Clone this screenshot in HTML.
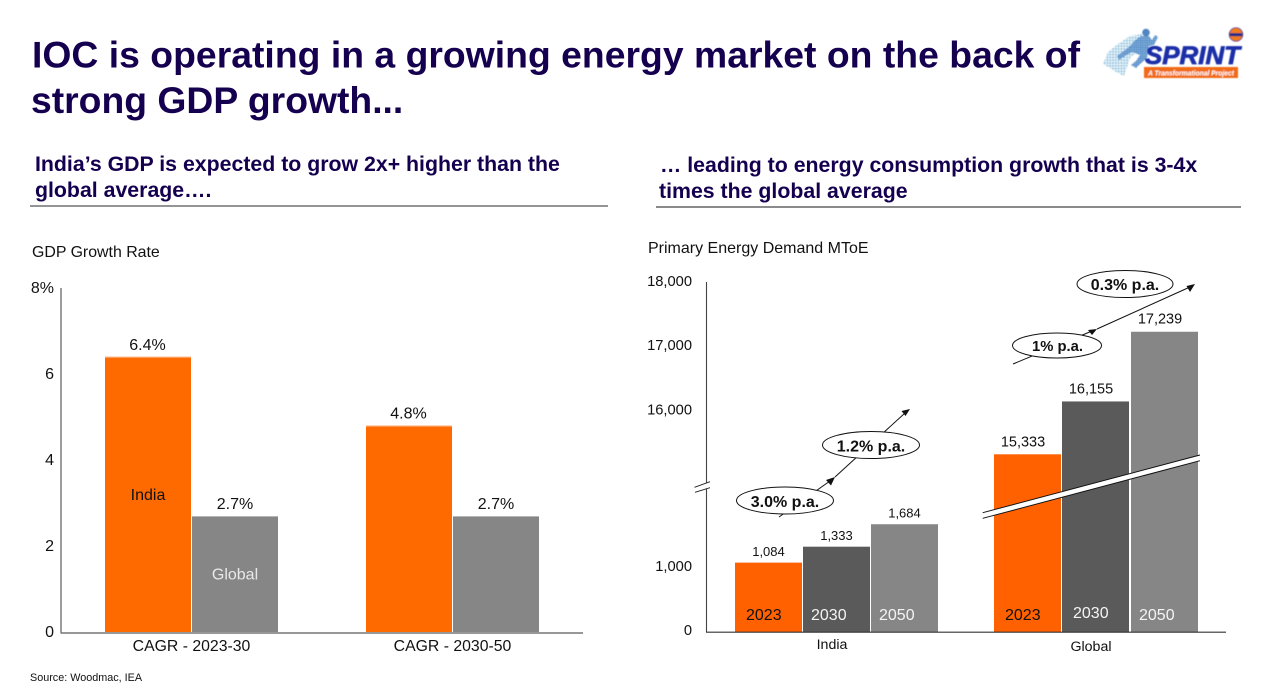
<!DOCTYPE html>
<html lang="en">
<head>
<meta charset="utf-8">
<title>IOC energy market slide</title>
<style>
html,body{margin:0;padding:0;background:#fff;width:1261px;height:694px;overflow:hidden}
svg{display:block;font-family:"Liberation Sans",Arial,sans-serif}
</style>
</head>
<body>
<svg id="slide" xmlns="http://www.w3.org/2000/svg" width="1261" height="694" viewBox="0 0 1261 694">
  <defs>
    <filter id="soft" x="-10%" y="-10%" width="120%" height="120%"><feGaussianBlur stdDeviation="0.5"/></filter>
    <pattern id="dots" width="2.2" height="2.2" patternUnits="userSpaceOnUse"><rect width="2.2" height="2.2" fill="#86b4de"/><circle cx="1.1" cy="1.1" r="0.75" fill="#2f6fb8"/></pattern>
    <pattern id="sparse" width="2.8" height="2.8" patternUnits="userSpaceOnUse"><rect width="2.8" height="2.8" fill="#e4f1f8"/><circle cx="1.4" cy="1.4" r="0.8" fill="#62a9d2"/></pattern>
  </defs>
  <rect width="1261" height="694" fill="#fff"/>

  <g fill="#15004f" font-weight="700" font-size="37.3">
    <text x="32" y="67.5" textLength="1048" lengthAdjust="spacing">IOC is operating in a growing energy market on the back of</text>
    <text x="31" y="113">strong GDP growth...</text>
  </g>

  <g filter="url(#soft)">
    <path d="M1103 64 L1108 52 L1118 44 L1130 36 L1142 34 L1140 50 L1130 58 L1124 76 L1116 72 L1110 68 Z" fill="url(#sparse)"/>
    <path d="M1141 36 L1149 36 L1152 40 L1155 35 L1158 37 L1154 45 L1149 46 L1148 52 L1147 58 L1139 65 L1136 68 L1131 65 L1136 61 L1140 55 L1132 52 L1125 56 L1119 60 L1117 56 L1125 50 L1131 45 L1134 41 Z" fill="url(#dots)"/>
    <circle cx="1146" cy="32.500" r="3.800" fill="#4f86c0"/>
    <circle cx="1236" cy="34.500" r="6.800" fill="#f07a1c" stroke="#1d2a8c" stroke-width="0.7"/>
    <rect x="1229.800" y="33.200" width="12.400" height="3" fill="#1d2a8c"/>
    <text x="1145" y="64" font-size="25" font-weight="700" font-style="italic" fill="#1c2fa8" stroke="#1c2fa8" stroke-width="0.8" textLength="95" lengthAdjust="spacingAndGlyphs">SPRINT</text>
    <rect x="1144" y="67" width="94" height="11" fill="#f26a14"/>
    <text x="1148" y="75.300" font-size="7.200" font-weight="700" font-style="italic" fill="#fff" textLength="86" lengthAdjust="spacingAndGlyphs">A Transformational Project</text>
  </g>

  <g fill="#15004f" font-weight="700" font-size="21.3">
    <text x="35" y="171">India’s GDP is expected to grow 2x+ higher than the</text>
    <text x="35" y="197">global average….</text>
  </g>
  <line x1="30" y1="206" x2="608" y2="206" stroke="#555" stroke-width="1.200"/>

  <g fill="#15004f" font-weight="700" font-size="21.3">
    <text x="660" y="172">… leading to energy consumption growth that is 3-4x</text>
    <text x="659" y="198">times the global average</text>
  </g>
  <line x1="656" y1="207" x2="1241" y2="207" stroke="#444" stroke-width="1.200"/>

  <text x="32" y="257" font-size="15.900" fill="#111">GDP Growth Rate</text>
  <text x="648" y="253" font-size="16" fill="#111">Primary Energy Demand MToE</text>

  <g id="gdp-chart"></g>
  <g id="energy-chart"></g>

  <g id="annotations" fill="none" stroke="#111" stroke-width="1">
    <line x1="779" y1="517" x2="830" y2="481"/>
    <polygon points="835,477 826,480 831,485.500" fill="#111" stroke="none"/>
    <line x1="835" y1="477" x2="905" y2="413"/>
    <polygon points="910,409 901.500,411 905.500,416" fill="#111" stroke="none"/>
    <line x1="1013" y1="364" x2="1092" y2="331"/>
    <polygon points="1097,329 1088,330 1092,335" fill="#111" stroke="none"/>
    <line x1="1097" y1="329" x2="1190" y2="287"/>
    <polygon points="1195,284 1186.500,286 1190,292" fill="#111" stroke="none"/>
    <g>
      <ellipse cx="785" cy="500.500" rx="48.500" ry="13.500" fill="#fff"/>
      <text x="785" y="507" font-size="16" font-weight="700" fill="#111" stroke="none" text-anchor="middle">3.0% p.a.</text>
    </g>
    <g>
      <ellipse cx="871" cy="445" rx="48.500" ry="13.500" fill="#fff"/>
      <text x="871" y="451.500" font-size="16" font-weight="700" fill="#111" stroke="none" text-anchor="middle">1.2% p.a.</text>
    </g>
    <g>
      <ellipse cx="1057" cy="345.500" rx="44.500" ry="12.500" fill="#fff"/>
      <text x="1057.500" y="351" font-size="14.800" font-weight="700" fill="#111" stroke="none" text-anchor="middle">1% p.a.</text>
    </g>
    <g>
      <ellipse cx="1125" cy="284" rx="48" ry="13.500" fill="#fff"/>
      <text x="1125" y="290" font-size="16" font-weight="700" fill="#111" stroke="none" text-anchor="middle">0.3% p.a.</text>
    </g>
  </g>

  <text x="30" y="681" font-size="10.800" fill="#111">Source: Woodmac, IEA</text>
</svg>

<script>
var gdpCategories = ['CAGR - 2023-30', 'CAGR - 2030-50'];
var gdpIndia = [6.4, 4.8];
var gdpGlobal = [2.7, 2.7];
var gdpTicks = [0, 2, 4, 6, 8];
var gdpTickLabels = ['0', '2', '4', '6', '8%'];
var gdpValueLabels = { india: ['6.4%', '4.8%'], global: ['2.7%', '2.7%'] };

var energyGroups = ['India', 'Global'];
var energyYears = ['2023', '2030', '2050'];
var energyIndia = [1084, 1333, 1684];
var energyGlobal = [15333, 16155, 17239];
var energyLowerTicks = [0, 1000];
var energyUpperTicks = [16000, 17000, 18000];

var SVGNS = 'http://www.w3.org/2000/svg';

function make(parent, tag, props) {
  var el = document.createElementNS(SVGNS, tag);
  for (var k in props) { el.setAttribute(k, props[k]); }
  parent.appendChild(el);
  return el;
}
function fmt(v) { return String(v).replace(/\B(?=(\d{3})+$)/g, ','); }

/* ---------- GDP chart ---------- */
var gdpRoot = document.getElementById('gdp-chart');
function gdpY(v) { return 632 - v * 43; }
function gdpGroupX(i) { return 105 + i * 261; }

gdpTicks.forEach(function (t, i) {
  var tick = make(gdpRoot, 'text', { x: 54, y: gdpY(t) + 5, 'font-size': 16, fill: '#111', 'text-anchor': 'end' });
  tick.textContent = gdpTickLabels[i];
  
  
});

gdpCategories.forEach(function (cat, i) {
  var x0 = gdpGroupX(i);

  var barI = make(gdpRoot, 'rect', { x: x0, y: gdpY(gdpIndia[i]), width: 86, height: gdpY(0) - gdpY(gdpIndia[i]), fill: '#ff6a00' });
  
  

  var edge = make(gdpRoot, 'line', { x1: x0, x2: x0 + 86, y1: gdpY(gdpIndia[i]) + 0.5, y2: gdpY(gdpIndia[i]) + 0.5, stroke: '#fbb080', 'stroke-width': 1 });
  
  

  var barG = make(gdpRoot, 'rect', { x: x0 + 87, y: gdpY(gdpGlobal[i]) + 0.5, width: 86, height: gdpY(0) - gdpY(gdpGlobal[i]) - 0.5, fill: '#868686' });
  
  

  var valI = make(gdpRoot, 'text', { x: x0 + 42.5, y: gdpY(gdpIndia[i]) - 7, 'font-size': 16, fill: '#111', 'text-anchor': 'middle' });
  valI.textContent = gdpValueLabels.india[i];
  
  

  var valG = make(gdpRoot, 'text', { x: x0 + 130, y: gdpY(gdpGlobal[i]) - 7, 'font-size': 16, fill: '#111', 'text-anchor': 'middle' });
  valG.textContent = gdpValueLabels.global[i];
  
  

  var catLabel = make(gdpRoot, 'text', { x: x0 + 86.5, y: 651, 'font-size': 15.8, fill: '#111', 'text-anchor': 'middle' });
  catLabel.textContent = cat;
  
  
});

var gdpSeriesIndia = make(gdpRoot, 'text', { x: 148, y: 500, 'font-size': 16, fill: '#111', 'text-anchor': 'middle' });
gdpSeriesIndia.textContent = 'India';



var gdpSeriesGlobal = make(gdpRoot, 'text', { x: 235, y: 579.5, 'font-size': 16, fill: '#e8e8e8', 'text-anchor': 'middle' });
gdpSeriesGlobal.textContent = 'Global';



var gdpAxisY = make(gdpRoot, 'line', { x1: 61, x2: 61, y1: gdpY(8), y2: 633, stroke: '#666', 'stroke-width': 1.3 });



var gdpAxisX = make(gdpRoot, 'line', { x1: 60.5, x2: 583, y1: 633, y2: 633, stroke: '#777', 'stroke-width': 1.6 });



/* ---------- Energy chart ---------- */
var energyRoot = document.getElementById('energy-chart');
var BASE_Y = 632;
function lowerY(v) { return BASE_Y - v * 0.064; }
function upperY(v) { return 454.3 - (v - 15333) * 0.0643; }
function energyY(v) { return v >= 10000 ? upperY(v) : lowerY(v); }

var groupStarts = [735, 994];
var yearColors = ['#ff6000', '#5a5a5a', '#868686'];
var yearTextColors = ['#111', '#f4f4f4', '#f4f4f4'];
var energySeries = [energyIndia, energyGlobal];
var groupLabelPos = [649, 651];
var groupLabelX = [832, 1091];

energyLowerTicks.concat(energyUpperTicks).forEach(function (t) {
  var tick = make(energyRoot, 'text', { x: 692, y: energyY(t) + 3, 'font-size': 14.7, fill: '#111', 'text-anchor': 'end' });
  tick.textContent = fmt(t);
  
  
});

energyGroups.forEach(function (group, g) {
  var values = energySeries[g];
  values.forEach(function (v, i) {
    var x = groupStarts[g] + i * 68 + (g === 1 && i === 2 ? 1 : 0);
    var top = energyY(v);

    var bar = make(energyRoot, 'rect', { x: x, y: top, width: 67, height: BASE_Y - top, fill: yearColors[i] });
    
    

    var val = make(energyRoot, 'text', { x: x + (g === 1 ? 29 : 33.5), y: top - (g === 1 ? 8 : 6.5), 'font-size': g === 1 ? 14.5 : 13, fill: '#111', 'text-anchor': 'middle' });
    val.textContent = fmt(v);
    
    

    var year = make(energyRoot, 'text', { x: x + (i === 0 ? 11 : 8) + (g === 1 && i === 1 ? 3 : 0), y: g === 1 && i === 1 ? 618 : 620, 'font-size': 16, fill: yearTextColors[i] });
    year.textContent = energyYears[i];
    
    
  });

  var groupLabel = make(energyRoot, 'text', { x: groupLabelX[g], y: groupLabelPos[g], 'font-size': 14.2, fill: '#111', 'text-anchor': 'middle' });
  groupLabel.textContent = group;
  
  
});

var energyAxisY = make(energyRoot, 'line', { x1: 706.5, x2: 706.5, y1: 282, y2: BASE_Y, stroke: '#444', 'stroke-width': 1.1 });



var energyAxisX = make(energyRoot, 'line', { x1: 706, x2: 1226, y1: 632.2, y2: 632.2, stroke: '#333', 'stroke-width': 1.2 });



var axisBreakFill = make(energyRoot, 'polygon', { points: '695,487.3 710,481.7 710,487.7 695,492.3', fill: '#fff' });



var axisBreakA = make(energyRoot, 'line', { x1: 694.5, y1: 487.3, x2: 710, y2: 481.7, stroke: '#222', 'stroke-width': 1 });



var axisBreakB = make(energyRoot, 'line', { x1: 695, y1: 492.3, x2: 710, y2: 487.7, stroke: '#222', 'stroke-width': 1 });



var breakBand = make(energyRoot, 'polygon', { points: '982.7,512.7 1200,455 1200,460.7 982.7,518.3', fill: '#fff' });



var breakTop = make(energyRoot, 'line', { x1: 982.7, y1: 512.7, x2: 1200, y2: 455, stroke: '#111', 'stroke-width': 1 });



var breakBottom = make(energyRoot, 'line', { x1: 982.7, y1: 518.3, x2: 1200, y2: 460.7, stroke: '#111', 'stroke-width': 1 });


</script>
</body>
</html>
